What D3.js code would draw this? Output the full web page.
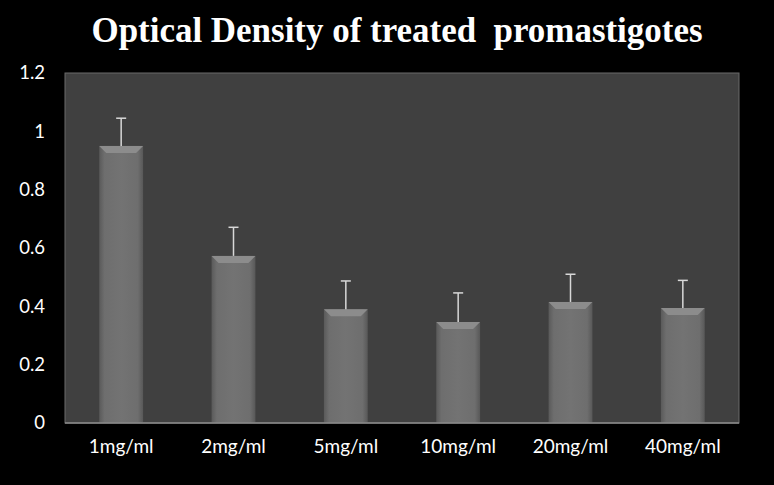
<!DOCTYPE html>
<html>
<head>
<meta charset="utf-8">
<script src="https://cdn.jsdelivr.net/npm/d3@7"></script>
<style>
  body { margin: 0; background: #000; }
  #chart svg { display: block; }
</style>
</head>
<body>
<div id="chart"></div>
<script>
const categories = ["1mg/ml", "2mg/ml", "5mg/ml", "10mg/ml", "20mg/ml", "40mg/ml"];
const values = [0.95, 0.573, 0.39, 0.346, 0.415, 0.394];
const errors = [0.095, 0.098, 0.097, 0.1, 0.095, 0.095];
const yTicks = [0, 0.2, 0.4, 0.6, 0.8, 1, 1.2];
const title = "Optical Density of treated  promastigotes";

const width = 774, height = 485;
const plot = { left: 65, right: 739, top: 73, bottom: 423 };

const svg = d3.select("#chart").append("svg").attr("width", width).attr("height", height);
svg.append("rect").attr("width", width).attr("height", height).attr("fill", "#000");

const defs = svg.append("defs");
const grad = defs.append("linearGradient").attr("id", "barGrad").attr("x1", 0).attr("x2", 1).attr("y1", 0).attr("y2", 0);
grad.append("stop").attr("offset", "0%").attr("stop-color", "#5a5a5a");
grad.append("stop").attr("offset", "12%").attr("stop-color", "#6e6e6e");
grad.append("stop").attr("offset", "50%").attr("stop-color", "#737373");
grad.append("stop").attr("offset", "88%").attr("stop-color", "#6e6e6e");
grad.append("stop").attr("offset", "100%").attr("stop-color", "#585858");

const x = d3.scaleBand().domain(categories).range([plot.left, plot.right]).paddingInner(0.61).paddingOuter(0.305);
const y = d3.scaleLinear().domain([0, 1.2]).range([plot.bottom, plot.top]);

// plot area
svg.append("rect")
  .attr("x", plot.left).attr("y", plot.top)
  .attr("width", plot.right - plot.left).attr("height", plot.bottom - plot.top)
  .attr("fill", "#404040").attr("stroke", "#6a6a6a").attr("stroke-width", 1);

// title
svg.append("text")
  .attr("x", width / 2 + 10).attr("y", 42)
  .attr("text-anchor", "middle")
  .attr("font-family", "'Liberation Serif', 'Times New Roman', serif")
  .attr("font-weight", "bold").attr("font-size", 36)
  .attr("fill", "#fff")
  .attr("textLength", 611).attr("lengthAdjust", "spacingAndGlyphs")
  .style("white-space", "pre")
  .text(title);

// bars
const bars = svg.append("g");
categories.forEach((c, i) => {
  const bx = x(c), bw = x.bandwidth(), by = y(values[i]);
  bars.append("rect")
    .attr("x", bx).attr("y", by).attr("width", bw).attr("height", y(0) - by)
    .attr("fill", "url(#barGrad)");
  // top bevel
  bars.append("path")
    .attr("d", `M${bx},${by} L${bx + bw},${by} L${bx + bw - 7},${by + 7} L${bx + 7},${by + 7} Z`)
    .attr("fill", "#8c8c8c");
  // error bar
  const cx = bx + bw / 2, ey = y(values[i] + errors[i]);
  bars.append("line").attr("x1", cx).attr("x2", cx).attr("y1", by).attr("y2", ey)
    .attr("stroke", "#d8d8d8").attr("stroke-width", 1.5);
  bars.append("line").attr("x1", cx - 5).attr("x2", cx + 5).attr("y1", ey).attr("y2", ey)
    .attr("stroke", "#d8d8d8").attr("stroke-width", 1.5);
});

// baseline
svg.append("line").attr("x1", plot.left).attr("x2", plot.right)
  .attr("y1", y(0)).attr("y2", y(0)).attr("stroke", "#8a8a8a").attr("stroke-width", 1.5);

// y axis
const yAxis = svg.append("g").attr("transform", `translate(${plot.left},0)`)
  .call(d3.axisLeft(y).tickValues(yTicks).tickSize(0).tickPadding(20).tickFormat(d3.format("")));
yAxis.select(".domain").remove();
yAxis.selectAll("text").attr("fill", "#fff").attr("font-size", 18.5)
  .attr("font-family", "Lato, 'Open Sans', sans-serif");

// x axis
const xAxis = svg.append("g").attr("transform", `translate(0,${plot.bottom})`)
  .call(d3.axisBottom(x).tickSize(0).tickPadding(17));
xAxis.select(".domain").remove();
xAxis.selectAll("text").attr("fill", "#fff").attr("font-size", 19)
  .attr("font-family", "Lato, 'Open Sans', sans-serif");
</script>
</body>
</html>
